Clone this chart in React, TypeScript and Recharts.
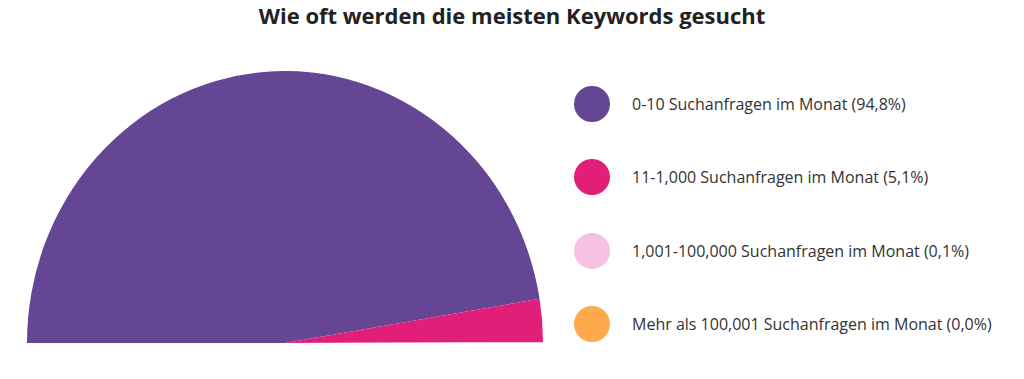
import { PieChart, Pie, Cell } from "recharts";

const categories = [
  "0-10 Suchanfragen im Monat",
  "11-1,000 Suchanfragen im Monat",
  "1,001-100,000 Suchanfragen im Monat",
  "Mehr als 100,001 Suchanfragen im Monat",
];
const shares = [94.8, 5.1, 0.1, 0.0];
const colors = ["#654694", "#E11F79", "#F5C2E2", "#FFA94D"];

const title = "Wie oft werden die meisten Keywords gesucht";
const font = "'Open Sans', Lato, sans-serif";

const data = categories.map((name, i) => ({ name, value: shares[i] }));

const fmt = (v: number) => v.toFixed(1).replace(".", ",") + "%";

export default function App() {
  return (
    <div
      style={{
        position: "absolute",
        left: 0,
        top: 0,
        width: 1024,
        height: 379,
        background: "#fff",
        fontFamily: font,
        overflow: "hidden",
      }}
    >
      <div
        style={{
          position: "absolute",
          top: 0,
          width: 1024,
          textAlign: "center",
          fontSize: 22,
          fontWeight: 700,
          color: "#222",
          lineHeight: "31px",
        }}
      >
        {title}
      </div>

      {/* half pie, stretched a touch vertically like the original */}
      <div
        style={{
          position: "absolute",
          left: 0,
          top: 0,
          transform: "scaleY(1.054)",
          transformOrigin: "0 343px",
        }}
      >
        <PieChart
          width={570}
          height={379}
          margin={{ top: 0, right: 0, bottom: 0, left: 0 }}
        >
          <Pie
            data={data}
            dataKey="value"
            cx={285}
            cy={343}
            startAngle={180}
            endAngle={0}
            innerRadius={0}
            outerRadius={258}
            stroke="none"
            isAnimationActive={false}
          >
            {data.map((d, i) => (
              <Cell key={d.name} fill={colors[i]} />
            ))}
          </Pie>
        </PieChart>
      </div>

      <div style={{ position: "absolute", left: 574, top: 86 }}>
        {data.map((d, i) => (
          <div
            key={d.name}
            style={{
              display: "flex",
              alignItems: "center",
              height: 36,
              marginBottom: i < data.length - 1 ? 37.3 : 0,
            }}
          >
            <span
              style={{
                width: 36,
                height: 36,
                borderRadius: "50%",
                background: colors[i],
                display: "inline-block",
              }}
            />
            <span
              style={{
                marginLeft: 22,
                fontSize: 16,
                color: "#333",
                whiteSpace: "nowrap",
              }}
            >
              {d.name} ({fmt(d.value)})
            </span>
          </div>
        ))}
      </div>
    </div>
  );
}
